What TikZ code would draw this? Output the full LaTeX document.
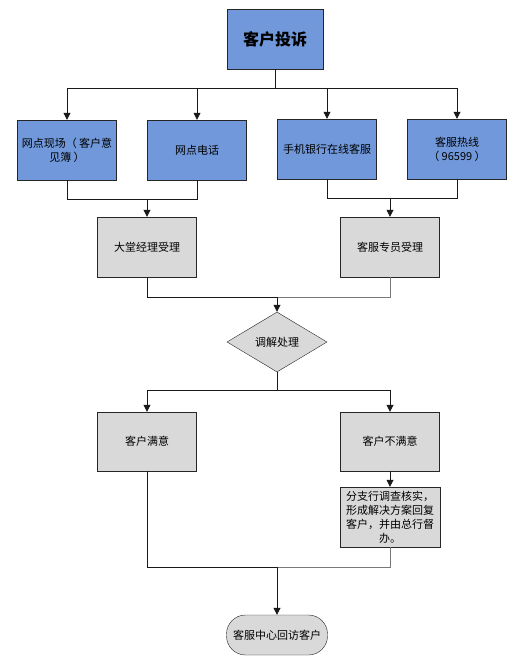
\documentclass[tikz,border=0pt]{standalone}
\usepackage{fontspec}
\setmainfont{Noto Sans CJK SC}
\usetikzlibrary{arrows.meta,shapes.geometric}
\definecolor{blueF}{RGB}{112,152,218}
\definecolor{grayF}{RGB}{217,217,217}
\definecolor{lineG}{RGB}{120,120,120}
\begin{document}
\begin{tikzpicture}[x=1pt,y=-1pt,
  txt/.style={font=\fontsize{11}{14}\selectfont, align=center, inner sep=1pt},
  bluebox/.style={txt, draw=black!85, fill=blueF, minimum width=99pt, minimum height=60pt},
  graybox/.style={txt, draw=black!85, fill=grayF, minimum width=99pt, minimum height=60pt},
  dia/.style={txt, diamond, draw=black!85, fill=grayF, minimum width=100pt, minimum height=60pt, inner sep=0pt},
  term/.style={txt, draw=black!85, fill=grayF, minimum width=101pt, minimum height=40pt, rounded corners=19pt},
  conn/.style={draw=black!90, line width=0.8pt},
  arr/.style={conn, -{Triangle[width=7pt,length=7pt]}},
]
\useasboundingbox (0,0) rectangle (523,666);

\node[bluebox, minimum width=96pt, font=\fontsize{16}{18}\selectfont\bfseries] (top) at (275,39) {客户投诉};

\node[bluebox] (b1) at (67,150) {网点现场（ 客户意\\见簿 ）};
\node[bluebox] (b2) at (197,150) {网点电话};
\node[bluebox] (b3) at (327,149) {手机银行在线客服};
\node[bluebox] (b4) at (457,149) {客服热线\\（ 96599 ）};

\node[graybox] (g1) at (147,247) {大堂经理受理};
\node[graybox] (g2) at (390,247) {客服专员受理};

\node[dia] (d) at (277,342) {调解处理};

\node[graybox, minimum height=59pt] (s1) at (147,441.5) {客户满意};
\node[graybox, minimum height=59pt] (s2) at (390,441.5) {客户不满意};
\node[graybox, minimum width=100pt] (s3) at (390,517) {分支行调查核实，\\形成解决方案回复\\客户，并由总行督\\\makebox[88pt][l]{\hspace*{33pt}办。}};

\node[term] (e) at (277,635) {客服中心回访客户};

\coordinate (h1) at (275,88);
\coordinate (m1) at (147,199);
\coordinate (m2) at (390,198);
\coordinate (m3) at (277,297);
\coordinate (m4) at (277,390);
\coordinate (m5) at (277,567);

\draw[conn] (top.south) -- (h1);
\draw[arr] (h1) -| (b1.north);
\draw[arr] (h1) -| (b2.north);
\draw[arr] (h1) -| (b3.north);
\draw[arr] (h1) -| (b4.north);

\draw[conn] (b1.south) |- (m1);
\draw[conn] (b2.south) |- (m1);
\draw[arr] (m1) -- (g1.north);
\draw[conn] (b3.south) |- (m2);
\draw[conn] (b4.south) |- (m2);
\draw[arr] (m2) -- (g2.north);

\draw[conn] (g1.south) |- (m3);
\draw[conn, draw=lineG] (g2.south) |- (m3);
\draw[arr] (m3) -- (d.north);

\draw[conn] (d.south) -- (m4);
\draw[arr] (m4) -| (s1.north);
\draw[arr] (m4) -| (s2.north);
\draw[arr] (s2.south) -- (s3.north);

\draw[conn] (s1.south) |- (m5);
\draw[conn, draw=lineG] (s3.south) |- (m5);
\draw[arr] (m5) -- (e.north);
\end{tikzpicture}
\end{document}
